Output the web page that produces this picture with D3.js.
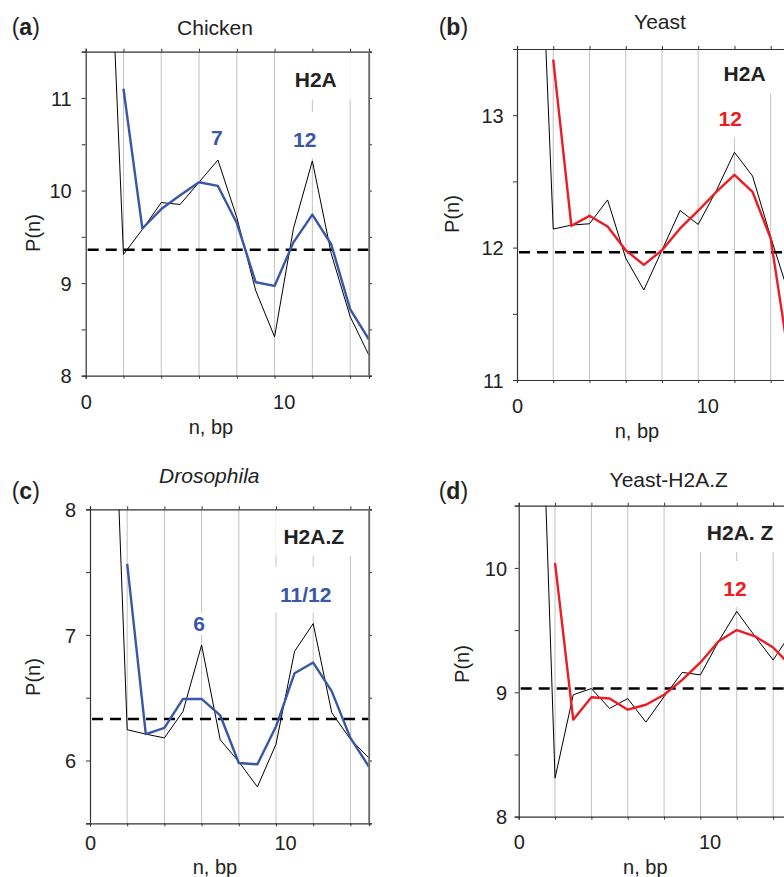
<!DOCTYPE html>
<html>
<head>
<meta charset="utf-8">
<script src="https://cdn.jsdelivr.net/npm/d3@7/dist/d3.min.js"></script>
<style>
  body { margin: 0; background: #fff; }
  svg { display: block; font-family: "Liberation Sans", Arial, Helvetica, sans-serif; }
</style>
</head>
<body>
<svg id="fig" width="784" height="877"></svg>
<script>
// n, bp positions shared by all four panels
const nbp = [1, 2, 3, 4, 5, 6, 7, 8, 9, 10, 11, 12, 13, 14, 15];

// (a) Chicken H2A
const chickenRaw = [14.2, 9.31, 9.58, 9.87, 9.85, 10.09, 10.33, 9.71, 8.92, 8.42, 9.59, 10.32, 9.32, 8.64, 8.22];
const chickenSmooth = [null, 11.10, 9.59, 9.80, 9.95, 10.09, 10.05, 9.65, 9.01, 8.97, 9.44, 9.74, 9.42, 8.72, 8.39];
const chickenMean = 9.36;

// (b) Yeast H2A
const yeastRaw = [15.5, 12.14, 12.17, 12.18, 12.36, 11.92, 11.68, 11.98, 12.28, 12.175, 12.43, 12.72, 12.54, 12.08, 11.65];
const yeastSmooth = [null, 13.42, 12.165, 12.24, 12.16, 11.98, 11.87, 11.98, 12.145, 12.28, 12.42, 12.55, 12.42, 12.07, 11.17];
const yeastMean = 11.965;

// (c) Drosophila H2A.Z
const drosRaw = [10.23, 6.245, 6.21, 6.18, 6.39, 6.92, 6.165, 5.99, 5.79, 6.13, 6.87, 7.09, 6.38, 6.17, 6.02];
const drosSmooth = [null, 7.565, 6.21, 6.26, 6.49, 6.49, 6.36, 5.98, 5.97, 6.27, 6.695, 6.78, 6.55, 6.18, 5.95];
const drosMean = 6.33;

// (d) Yeast H2A.Z
const yeastZRaw = [12.69, 8.31, 8.98, 9.03, 8.87, 8.95, 8.76, 8.965, 9.16, 9.14, 9.41, 9.65, 9.45, 9.26, 9.48];
const yeastZSmooth = [null, 10.04, 8.78, 8.96, 8.95, 8.86, 8.90, 8.98, 9.10, 9.24, 9.41, 9.50, 9.45, 9.36, 9.21];
const yeastZMean = 9.03;

const blue = "#3a56a6", red = "#ec1c24";
const font = '"Liberation Sans", Arial, Helvetica, sans-serif';

const panels = [
  { letter: "a", title: "Chicken", italic: false, raw: chickenRaw, smooth: chickenSmooth, mean: chickenMean, color: blue,
    yDomain: [8, 11.5], left: 85.7, right: 369, top: 51.7, bottom: 375.7, yGap: 14, xLabY: 33.6,
    titleX: 215, titleY: 35, letterX: 11.7, letterY: 35, ylabX: 39.5, ylabY: 233, xlabX: 211, xlabY: 434,
    notes: [
      { text: "H2A", n: 12.18, v: 11.114, fill: "#222", box: "frame" },
      { text: "7", n: 6.94, v: 10.497, fill: blue, box: "none" },
      { text: "12", n: 11.6, v: 10.47, fill: blue, box: "tall" }
    ] },
  { letter: "b", title: "Yeast", italic: false, raw: yeastRaw, smooth: yeastSmooth, mean: yeastMean, color: red,
    yDomain: [11, 13.5], left: 517, right: 788.8, top: 49, bottom: 380, yGap: 13.3, xLabY: 33,
    titleX: 660, titleY: 28.5, letterX: 438.7, letterY: 35, ylabX: 458.5, ylabY: 214, xlabX: 637, xlabY: 437.5,
    notes: [
      { text: "H2A", n: 12.56, v: 13.257, fill: "#222", box: "frame" },
      { text: "12", n: 11.77, v: 12.917, fill: red, box: "tall" }
    ] },
  { letter: "c", title: "Drosophila", italic: true, raw: drosRaw, smooth: drosSmooth, mean: drosMean, color: blue,
    yDomain: [5.5, 8], left: 90, right: 369, top: 509.3, bottom: 823.3, yGap: 14, xLabY: 26.7,
    titleX: 209.3, titleY: 483.3, letterX: 11.7, letterY: 498.5, ylabX: 39.5, ylabY: 677, xlabX: 215, xlabY: 874,
    notes: [
      { text: "H2A.Z", n: 12.03, v: 7.724, fill: "#222", box: "frame" },
      { text: "11/12", n: 11.6, v: 7.264, fill: blue, box: "tall" },
      { text: "6", n: 5.86, v: 7.033, fill: blue, box: "small" }
    ] },
  { letter: "d", title: "Yeast-H2A.Z", italic: false, raw: yeastZRaw, smooth: yeastZSmooth, mean: yeastZMean, color: red,
    yDomain: [8, 10.5], left: 518.7, right: 791.3, top: 505.7, bottom: 816.7, yGap: 11.7, xLabY: 32.7,
    titleX: 668.7, titleY: 486.7, letterX: 438.7, letterY: 498.5, ylabX: 469, ylabY: 664, xlabX: 645.3, xlabY: 874,
    notes: [
      { text: "H2A. Z", n: 12.18, v: 10.224, fill: "#222", box: "frame" },
      { text: "12", n: 11.9, v: 9.774, fill: red, box: "tall" }
    ] }
];

const svg = d3.select("#fig");

function drawPanel(p, i) {
  const x = d3.scaleLinear().domain([0, 15]).range([p.left, p.right]);
  const y = d3.scaleLinear().domain(p.yDomain).range([p.bottom, p.top]);
  const g = svg.append("g");

  const clipId = "clip" + i;
  svg.append("clipPath").attr("id", clipId).append("rect")
    .attr("x", p.left).attr("y", p.top).attr("width", p.right - p.left).attr("height", p.bottom - p.top);

  const gGrid = g.append("g"), gMask = g.append("g"), gData = g.append("g").attr("clip-path", `url(#${clipId})`);
  const gAxes = g.append("g"), gText = g.append("g");

  // vertical grid every 2 bp
  gGrid.selectAll("line").data(d3.range(2, 15, 2)).join("line")
    .attr("x1", d => x(d)).attr("x2", d => x(d)).attr("y1", p.top).attr("y2", p.bottom)
    .attr("stroke", "#c2c2c2").attr("stroke-width", 1);

  // mean level
  gData.append("line")
    .attr("x1", p.left + 2).attr("x2", p.right).attr("y1", y(p.mean)).attr("y2", y(p.mean))
    .attr("stroke", "#000").attr("stroke-width", 2.6).attr("stroke-dasharray", "11,7");

  const line = d3.line().defined(d => d[1] != null).x(d => x(d[0])).y(d => y(d[1]));
  gData.append("path").datum(nbp.map((n, k) => [n, p.raw[k]])).attr("d", line)
    .attr("fill", "none").attr("stroke", "#000").attr("stroke-width", 1).attr("stroke-linejoin", "miter");
  gData.append("path").datum(nbp.map((n, k) => [n, p.smooth[k]])).attr("d", line)
    .attr("fill", "none").attr("stroke", p.color).attr("stroke-width", 2.4).attr("stroke-linejoin", "round");

  // axes
  const yMinor = d3.range(p.yDomain[0], p.yDomain[1] + 0.01, 0.5);
  const fmtY = d => Number.isInteger(d) ? d : "";
  const ax = gAxes.append("g").attr("transform", `translate(${p.left},0)`)
    .call(d3.axisLeft(y).tickValues(yMinor).tickSize(4).tickPadding(p.yGap - 4).tickFormat(fmtY));
  ax.selectAll("text").attr("dy", "0.36em");
  gAxes.append("g").attr("transform", `translate(${p.right},0)`)
    .call(d3.axisRight(y).tickValues(yMinor).tickSize(3).tickFormat(""));
  const bx = gAxes.append("g").attr("transform", `translate(0,${p.bottom})`)
    .call(d3.axisBottom(x).tickValues(d3.range(0, 15, 2)).tickSize(3).tickFormat(d => (d === 0 || d === 10) ? d : ""));
  bx.selectAll("text").attr("y", p.xLabY).attr("dy", 0)
    .attr("text-anchor", d => d === 10 ? "start" : "middle").attr("dx", d => d === 10 ? -2 : 0);
  gAxes.append("g").attr("transform", `translate(0,${p.top})`)
    .call(d3.axisTop(x).tickValues(d3.range(0, 15, 2)).tickSize(3).tickFormat(""));
  gAxes.selectAll(".domain").attr("stroke", "#333").attr("stroke-width", 1.2);
  gAxes.selectAll(".tick line").attr("stroke", "#333");
  gAxes.selectAll("text").attr("font-size", 20).attr("font-family", font).attr("fill", "#222");
  gAxes.append("line").attr("x1", p.right).attr("x2", p.right).attr("y1", p.top).attr("y2", p.bottom)
    .attr("stroke", "#7a7a7a").attr("stroke-width", 1.6);

  // annotations with white boxes hiding grid lines
  p.notes.forEach(nt => {
    const t = gText.append("text").attr("x", x(nt.n)).attr("y", y(nt.v)).attr("text-anchor", "middle")
      .attr("font-size", 21).attr("font-weight", "bold").attr("font-family", font).attr("fill", nt.fill).text(nt.text);
    if (nt.box === "none") return;
    const b = t.node().getBBox();
    const base = y(nt.v), capTop = base - 15;
    let r;
    if (nt.box === "frame") r = { x0: b.x - 8, x1: b.x + b.width + 14, y0: p.top + 1, y1: base + 12 };
    else if (nt.box === "tall") r = { x0: b.x - 6, x1: b.x + b.width + 6, y0: capTop - 20, y1: base + 11 };
    else r = { x0: b.x - 3, x1: b.x + b.width + 3, y0: capTop - 3, y1: base + 4 };
    gMask.append("rect").attr("x", r.x0).attr("y", r.y0).attr("width", r.x1 - r.x0).attr("height", r.y1 - r.y0)
      .attr("fill", "#fff");
  });

  // titles and axis labels
  svg.append("text").attr("x", p.titleX).attr("y", p.titleY).attr("text-anchor", "middle")
    .attr("font-size", 21).attr("font-family", font).attr("fill", "#222")
    .attr("font-style", p.italic ? "italic" : "normal").text(p.title);
  const lt = svg.append("text").attr("x", p.letterX).attr("y", p.letterY)
    .attr("font-size", 23).attr("font-family", font).attr("fill", "#222");
  lt.append("tspan").text("(");
  lt.append("tspan").attr("font-weight", "bold").text(p.letter);
  lt.append("tspan").text(")");
  svg.append("text").attr("transform", `translate(${p.ylabX},${p.ylabY}) rotate(-90)`).attr("text-anchor", "middle")
    .attr("font-size", 20).attr("font-family", font).attr("fill", "#222").text("P(n)");
  svg.append("text").attr("x", p.xlabX).attr("y", p.xlabY).attr("text-anchor", "middle")
    .attr("font-size", 20).attr("font-family", font).attr("fill", "#222").text("n, bp");
}

panels.forEach(drawPanel);
</script>
</body>
</html>
